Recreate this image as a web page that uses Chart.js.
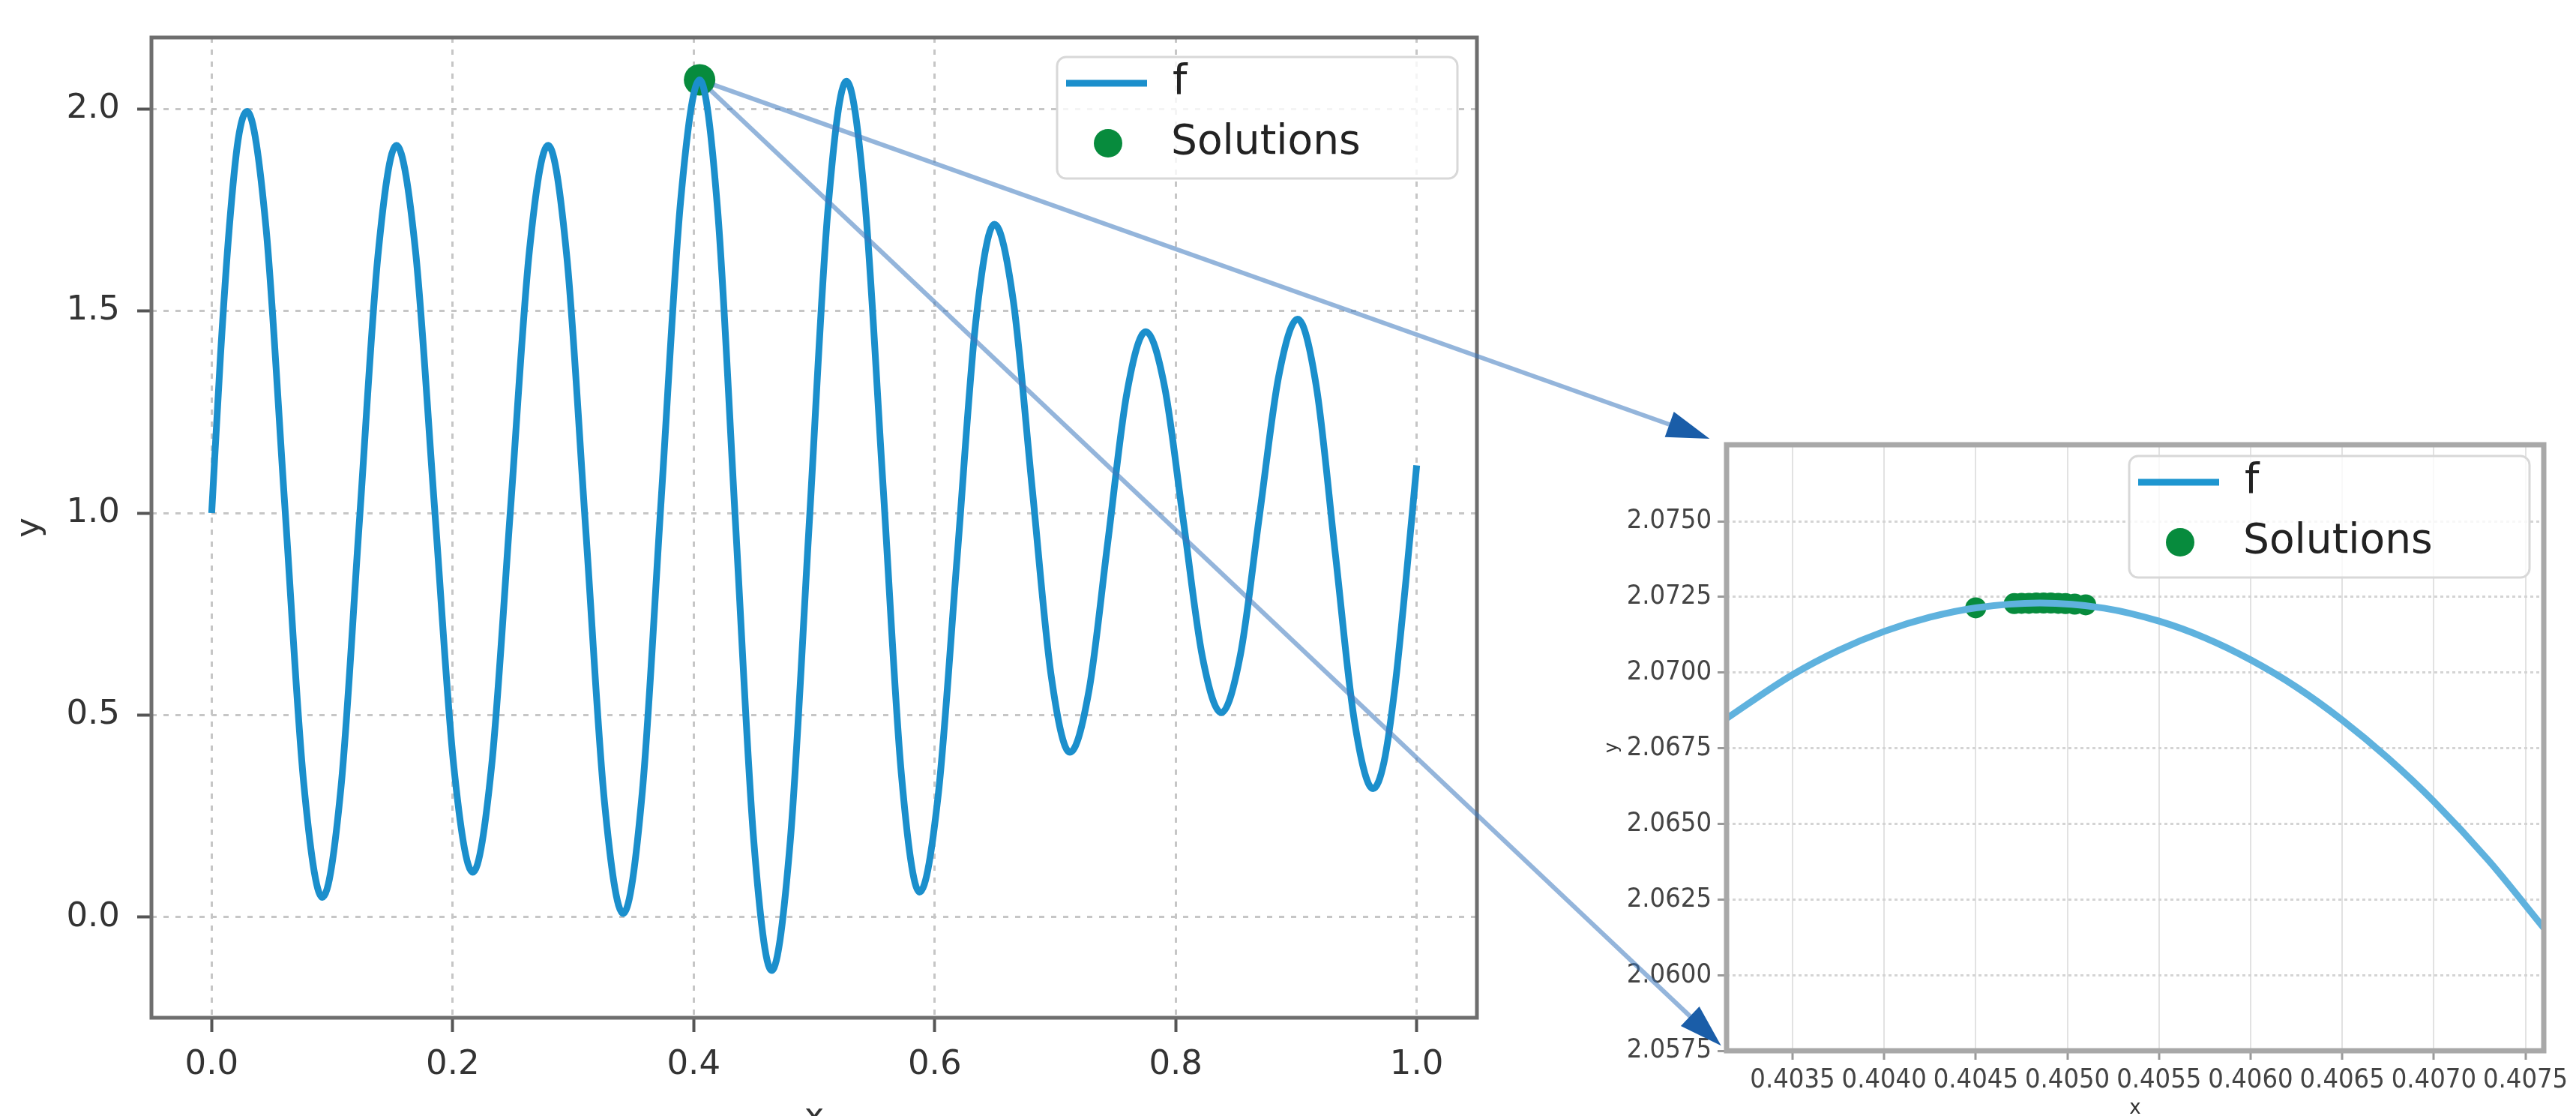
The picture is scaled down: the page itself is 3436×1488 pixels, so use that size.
<!DOCTYPE html>
<html lang="en">
<head>
<meta charset="UTF-8">
<title>f and solutions</title>
<script src="https://cdn.jsdelivr.net/npm/chart.js"></script>
<style>
  html, body { margin: 0; padding: 0; background: #fff; width: 3436px; height: 1488px; overflow: hidden; }
  #mainChart { position: absolute; left: 0; top: 0; }
  #zoomChart { position: absolute; left: 2100px; top: 500px; }
  #arrows { position: absolute; left: 0; top: 0; pointer-events: none; }
</style>
</head>
<body>
<canvas id="mainChart" width="2060" height="1520"></canvas>
<canvas id="zoomChart" width="1336" height="1020"></canvas>
<canvas id="arrows" width="3436" height="1488"></canvas>
<script>
// main curve f
const fX = [0, 0.0073, 0.0147, 0.0220, 0.0293,
  0.0450, 0.0606, 0.0763, 0.0919,
  0.1073, 0.1226, 0.1380, 0.1533,
  0.1692, 0.1850, 0.2009, 0.2167,
  0.2323, 0.2480, 0.2636, 0.2792,
  0.2948, 0.3104, 0.3259, 0.3415,
  0.3574, 0.3732, 0.3891, 0.4049,
  0.4199, 0.4348, 0.4498, 0.4647,
  0.4802, 0.4958, 0.5113, 0.5268,
  0.5420, 0.5572, 0.5723, 0.5875,
  0.6030, 0.6186, 0.6341, 0.6496,
  0.6653, 0.6809, 0.6966, 0.7122,
  0.7280, 0.7437, 0.7595, 0.7752,
  0.7909, 0.8065, 0.8222, 0.8378,
  0.8537, 0.8695, 0.8854, 0.9012,
  0.9169, 0.9325, 0.9482, 0.9638,
  0.9729, 0.9820, 0.9910, 1.0000];
const fY = [1.000, 1.390, 1.710, 1.925, 1.994,
  1.709, 1.022, 0.334, 0.049,
  0.321, 0.980, 1.638, 1.910,
  1.647, 1.011, 0.374, 0.111,
  0.374, 1.011, 1.647, 1.910,
  1.632, 0.960, 0.287, 0.009,
  0.311, 1.041, 1.770, 2.072,
  1.749, 0.970, 0.191, -0.132,
  0.190, 0.969, 1.747, 2.069,
  1.775, 1.066, 0.356, 0.062,
  0.304, 0.889, 1.473, 1.715,
  1.524, 1.062, 0.599, 0.408,
  0.560, 0.929, 1.297, 1.449,
  1.311, 0.978, 0.644, 0.506,
  0.649, 0.993, 1.337, 1.480,
  1.310, 0.899, 0.488, 0.318,
  0.384, 0.570, 0.831, 1.118];
const solX = [0.4049];
const solY = [2.0722];

// zoomed view around the maximum
const zoomX = [0.40310, 0.40350, 0.40375, 0.40400, 0.40425, 0.40450, 0.40485, 0.40520, 0.40550,
  0.40575, 0.40600, 0.40625, 0.40650, 0.40675, 0.40700, 0.40730, 0.40760];
const zoomY = [2.06832, 2.06993, 2.07073, 2.07136, 2.07183, 2.07214, 2.07230, 2.07213, 2.07170,
  2.07115, 2.07042, 2.06952, 2.06843, 2.06717, 2.06574, 2.06378, 2.06156];
const zoomSolX = [0.40450, 0.40471, 0.40475, 0.40479, 0.40483, 0.40487, 0.40491, 0.40495, 0.40499, 0.40504, 0.40510];
const zoomSolY = [2.07214, 2.07228, 2.07229, 2.07229, 2.07230, 2.07230, 2.07230, 2.07229, 2.07228, 2.07226, 2.07224];

const mainXTicks = [0, 0.2, 0.4, 0.6, 0.8, 1.0];
const mainYTicks = [0, 0.5, 1.0, 1.5, 2.0];
const zoomXTicks = [0.4035, 0.4040, 0.4045, 0.4050, 0.4055, 0.4060, 0.4065, 0.4070, 0.4075];
const zoomYTicks = [2.0575, 2.0600, 2.0625, 2.0650, 2.0675, 2.0700, 2.0725, 2.0750];

const blue = '#1b8fcc';
const lightBlue = '#5fb2de';
const green = '#078b3d';

// pick a narrow font for the small tick labels if one is installed
function pickFamily(list) {
  const c = document.createElement('canvas').getContext('2d');
  for (const f of list) {
    c.font = '40px monospace';
    const w1 = c.measureText('0.4035 Sol').width;
    c.font = '40px "' + f + '", monospace';
    const w2 = c.measureText('0.4035 Sol').width;
    if (Math.abs(w1 - w2) > 0.5) return f;
  }
  return null;
}
const narrow = pickFamily(['Liberation Sans Narrow', 'DejaVu Sans Condensed']);
const zoomTickFont = narrow ? { family: narrow, size: 36 } : { family: 'Liberation Sans', size: 31 };

const pts = (xs, ys) => xs.map((x, i) => ({ x: x, y: ys[i] }));

// frame round the plot and a matplotlib style legend box
function decor(cfg) {
  return {
    id: 'decor',
    afterDraw(chart) {
      const ctx = chart.ctx, a = chart.chartArea;
      ctx.save();
      ctx.strokeStyle = cfg.frameColor;
      ctx.lineWidth = cfg.frameWidth;
      ctx.strokeRect(a.left, a.top, a.right - a.left, a.bottom - a.top);

      const w = 534, h = 162;
      const bx = a.right - cfg.legendRight - w, by = a.top + cfg.legendTop;
      ctx.beginPath();
      ctx.roundRect(bx, by, w, h, 12);
      ctx.fillStyle = 'rgba(255,255,255,0.8)';
      ctx.fill();
      ctx.strokeStyle = '#d8d8d8';
      ctx.lineWidth = 3;
      ctx.stroke();

      ctx.strokeStyle = cfg.lineColor;
      ctx.lineWidth = 9;
      ctx.beginPath();
      ctx.moveTo(bx + 12, by + 35);
      ctx.lineTo(bx + 120, by + 35);
      ctx.stroke();

      ctx.fillStyle = green;
      ctx.beginPath();
      ctx.arc(bx + 68, by + 115, 19, 0, Math.PI * 2);
      ctx.fill();

      ctx.fillStyle = '#222';
      ctx.font = '55px "DejaVu Sans"';
      ctx.textBaseline = 'middle';
      ctx.textAlign = 'left';
      ctx.fillText('f', bx + 154, by + 35);
      ctx.fillText('Solutions', bx + 152, by + 115);
      ctx.restore();
    }
  };
}

const mainFont = { family: 'DejaVu Sans', size: 45 };

const mainChart = new Chart(document.getElementById('mainChart'), {
  type: 'line',
  data: {
    datasets: [
      { label: 'f', data: pts(fX, fY), borderColor: blue, borderWidth: 9, pointRadius: 0,
        cubicInterpolationMode: 'monotone', fill: false },
      { label: 'Solutions', data: pts(solX, solY), showLine: false, pointRadius: 21, pointHoverRadius: 21,
        pointBackgroundColor: green, pointBorderWidth: 0 }
    ]
  },
  options: {
    responsive: false,
    devicePixelRatio: 1,
    animation: false,
    layout: { padding: { top: 42, right: 90, left: 0, bottom: 0 } },
    plugins: { legend: { display: false }, tooltip: { enabled: false } },
    scales: {
      x: {
        type: 'linear', min: -0.05, max: 1.05,
        afterBuildTicks: s => { s.ticks = mainXTicks.map(v => ({ value: v })); },
        afterFit: s => { s.height = 163; },
        ticks: { callback: v => v.toFixed(1), color: '#333', font: mainFont, padding: 17, maxRotation: 0, autoSkip: false },
        grid: { color: '#c6c6c6', lineWidth: 3, tickLength: 19, tickColor: '#555', tickWidth: 4 },
        border: { display: false, dash: [7, 9] },
        title: { display: true, text: 'x', color: '#333', font: mainFont, padding: { top: 0, bottom: 3 } }
      },
      y: {
        type: 'linear', min: -0.249, max: 2.177,
        afterBuildTicks: s => { s.ticks = mainYTicks.map(v => ({ value: v })); },
        afterFit: s => { s.width = 202; },
        ticks: { callback: v => v.toFixed(1), color: '#333', font: mainFont, padding: 23 },
        grid: { color: '#c6c6c6', lineWidth: 3, tickLength: 19, tickColor: '#555', tickWidth: 4 },
        border: { display: false, dash: [7, 9] },
        title: { display: true, text: 'y', color: '#333', font: mainFont, padding: { top: 13, bottom: 0 } }
      }
    }
  },
  plugins: [decor({ frameColor: '#6e6e6e', frameWidth: 5, legendRight: 26, legendTop: 26, lineColor: blue })]
});

const zoomChart = new Chart(document.getElementById('zoomChart'), {
  type: 'line',
  data: {
    datasets: [
      { label: 'f', data: pts(zoomX, zoomY), borderColor: lightBlue, borderWidth: 9, pointRadius: 0,
        cubicInterpolationMode: 'monotone', fill: false },
      { label: 'Solutions', data: pts(zoomSolX, zoomSolY), showLine: false, pointRadius: 14, pointHoverRadius: 14,
        pointBackgroundColor: green, pointBorderWidth: 0 }
    ]
  },
  options: {
    responsive: false,
    devicePixelRatio: 1,
    animation: false,
    layout: { padding: { top: 93, right: 43, left: 0, bottom: 0 } },
    plugins: { legend: { display: false }, tooltip: { enabled: false } },
    scales: {
      x: {
        type: 'linear', min: 0.40314, max: 0.40760,
        afterBuildTicks: s => { s.ticks = zoomXTicks.map(v => ({ value: v })); },
        afterFit: s => { s.height = 119; },
        ticks: { callback: v => v.toFixed(4), color: '#444', font: zoomTickFont, padding: 6, maxRotation: 0, autoSkip: false },
        grid: { color: '#e2e2e2', lineWidth: 2, tickLength: 12, tickColor: '#999', tickWidth: 3 },
        border: { display: false },
        title: { display: true, text: 'x', color: '#333', font: { family: 'DejaVu Sans', size: 26 }, padding: { top: 0, bottom: 26 } }
      },
      y: {
        type: 'linear', min: 2.0575, max: 2.07753,
        afterBuildTicks: s => { s.ticks = zoomYTicks.map(v => ({ value: v })); },
        afterFit: s => { s.width = 203; },
        ticks: { callback: v => v.toFixed(4), color: '#444', font: zoomTickFont, padding: 8 },
        grid: { color: '#d4d4d4', lineWidth: 3, tickLength: 12, tickColor: '#999', tickWidth: 3 },
        border: { display: false, dash: [4, 4] },
        title: { display: true, text: 'y', color: '#333', font: { family: 'DejaVu Sans', size: 24 }, padding: { top: 36, bottom: 0 } }
      }
    }
  },
  plugins: [decor({ frameColor: '#a8a8a8', frameWidth: 7, legendRight: 19, legendTop: 15, lineColor: '#1e96d0' })]
});

// arrows from the solution in the big plot to the corners of the zoomed plot
const ov = document.getElementById('arrows').getContext('2d');
const sx = mainChart.scales.x.getPixelForValue(solX[0]);
const sy = mainChart.scales.y.getPixelForValue(solY[0]);
const za = zoomChart.chartArea;
const targets = [
  { x: 2100 + za.left, y: 500 + za.top, shrink: 24 },
  { x: 2100 + za.left, y: 500 + za.bottom, shrink: 10 }
];
targets.forEach(t => {
  const dx = t.x - sx, dy = t.y - sy;
  const len = Math.hypot(dx, dy), ux = dx / len, uy = dy / len;
  const tipX = t.x - ux * t.shrink, tipY = t.y - uy * t.shrink;
  const head = 57, half = 18;
  const bx = tipX - ux * head, by = tipY - uy * head;
  ov.strokeStyle = 'rgba(60,120,190,0.55)';
  ov.lineWidth = 6;
  ov.beginPath();
  ov.moveTo(sx + ux * 20, sy + uy * 20);
  ov.lineTo(bx + ux * 4, by + uy * 4);
  ov.stroke();
  ov.fillStyle = '#1a5da8';
  ov.beginPath();
  ov.moveTo(tipX, tipY);
  ov.lineTo(bx - uy * half, by + ux * half);
  ov.lineTo(bx + uy * half, by - ux * half);
  ov.closePath();
  ov.fill();
});
</script>
</body>
</html>
